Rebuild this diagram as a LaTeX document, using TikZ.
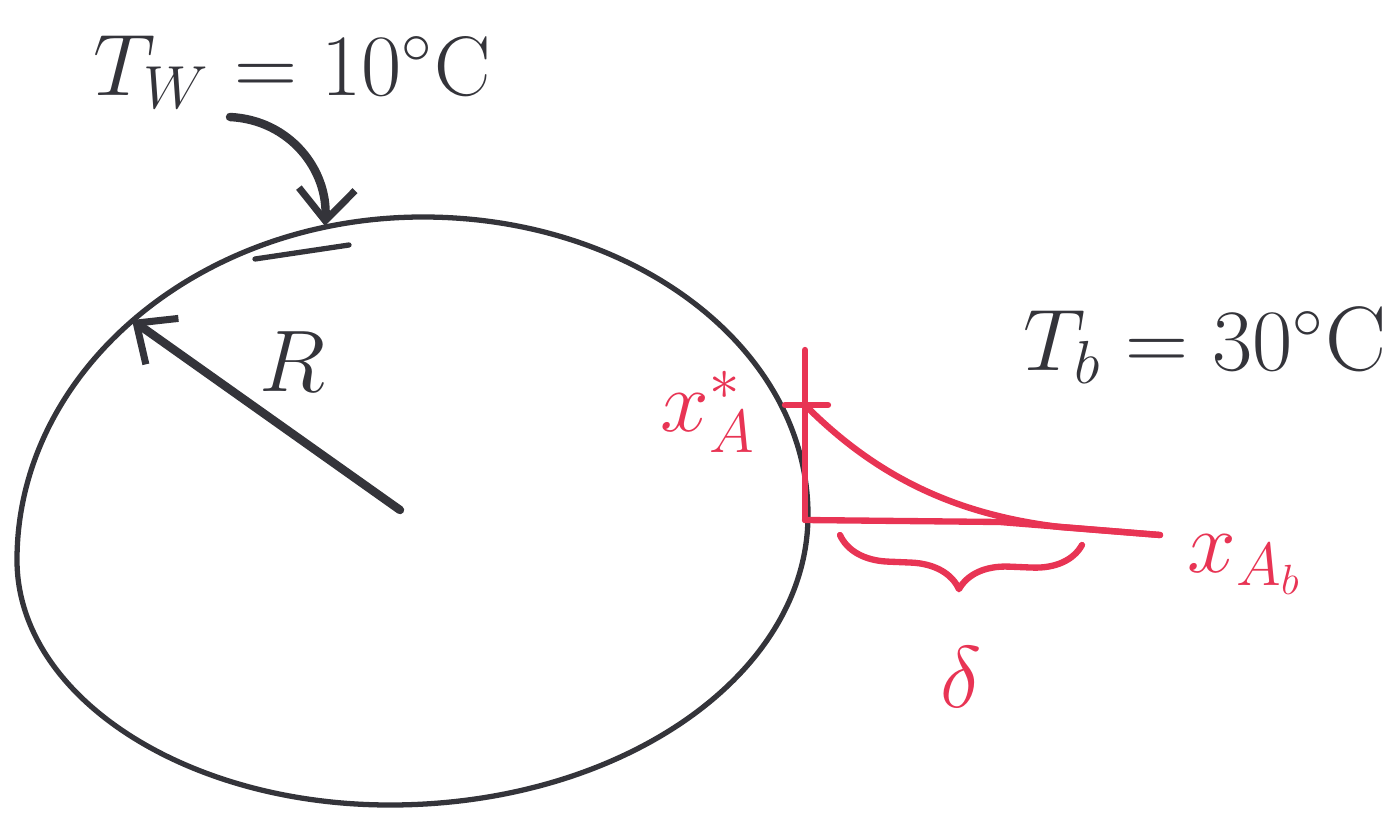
\documentclass[tikz,border=0pt]{standalone}
\usetikzlibrary{arrows.meta,decorations.pathreplacing}
\definecolor{inkblack}{RGB}{52,52,58}
\definecolor{inkred}{RGB}{232,52,84}
\begin{document}
\begin{tikzpicture}[x=0.01cm,y=-0.01cm,
  ink/.style={draw=inkblack,line width=1.5pt,line cap=round,line join=round},
  redink/.style={draw=inkred,line width=1.8pt,line cap=round,line join=round},
  barb/.style={-{Straight Barb[length=9pt,width=16pt,line width=2pt]}},
  lab/.style={inkblack,font=\fontsize{26}{30}\selectfont},
  redlab/.style={inkred,font=\fontsize{26}{30}\selectfont}]
  \useasboundingbox (0,0) rectangle (1397,818);
  % the drop
  \coordinate (dtop) at (423,217);
  \coordinate (dright) at (808,515);
  \coordinate (dbot) at (390,805);
  \coordinate (dleft) at (17,560);
  \draw[ink] (dtop) .. controls (636,217) and (808,350) .. (dright)
    .. controls (808,675) and (621,805) .. (dbot)
    .. controls (184,805) and (17,695) .. (dleft)
    .. controls (17,371) and (199,217) .. (dtop) -- cycle;
  \draw[ink] (255,259) -- (349,245);
  % wall temperature
  \node[lab,font=\fontsize{24}{28}\selectfont] (tw) at (292,72) {$T_W = 10^\circ$C};
  \coordinate (twfoot) at (230,117);
  \coordinate (wall) at (325,226);
  \draw[ink,barb,line width=2.4pt] (twfoot) .. controls (290,120) and (328,170) .. (wall);
  % radius
  \coordinate (centre) at (400,510);
  \coordinate (rim) at (132,320);
  \draw[ink,barb,line width=2.4pt] (centre) -- (rim);
  \node[lab] (rad) at (292,362) {$R$};
  % bulk
  \node[lab] (tb) at (1205,345) {$T_b = 30^\circ$C};
  % film
  \coordinate (surftop) at (805,350);
  \coordinate (surfbot) at (805,520);
  \coordinate (xstar) at (806,406);
  \coordinate (xbulk) at (1160,535);
  \draw[redink] (surftop) -- (surfbot);
  \draw[redink] (785,405) -- (828,405);
  \draw[redink] (xstar) .. controls (880,480) and (960,515) .. (1060,527) -- (xbulk);
  \draw[redink] (surfbot) -- (1000,522) -- (xbulk);
  \draw[redink,decorate,decoration={brace,mirror,amplitude=14pt}] (840,535) -- (1082,545)
    node[midway,below=26pt,redlab] (delta) {$\delta$};
  \node[redlab] (xa) at (708,412) {$x_A^*$};
  \node[redlab] (xab) at (1245,565) {$x_{A_b}$};
\end{tikzpicture}
\end{document}
